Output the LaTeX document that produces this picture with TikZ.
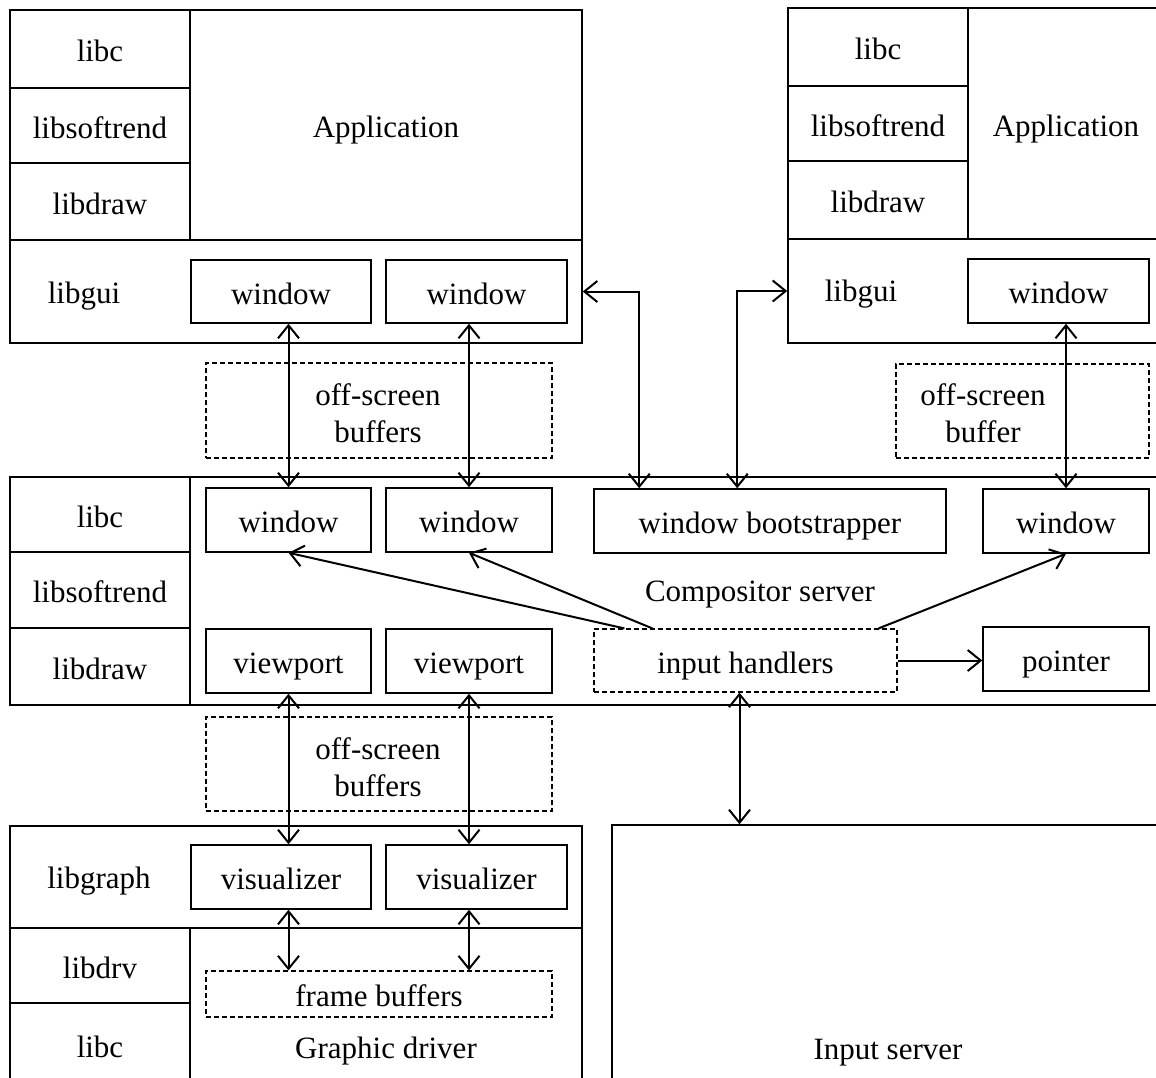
\documentclass[tikz,border=0pt]{standalone}
\usepackage{fontspec}
\setmainfont{Liberation Serif}
\usetikzlibrary{arrows.meta,calc}
\begin{document}
\begin{tikzpicture}[x=1pt,y=-1pt,
  every node/.style={font=\fontsize{31}{37}\selectfont},
  corners/.style n args={4}{at={({(#1+#3)/2},{(#2+#4)/2})}, minimum width={(#3-#1)*1pt}, minimum height={(#4-#2)*1pt}},
  one/.style={text height=25pt, text depth=0pt},
  cell/.style={draw, line width=1.5pt, inner sep=0pt, one},
  dbox/.style={draw, line width=1.2pt, dash pattern=on 5pt off 3pt, inner sep=0pt},
  lbl/.style={inner sep=0pt, one},
  lbltwo/.style={inner sep=0pt, align=center},
  conn/.style={line width=2pt, {Straight Barb[length=13pt,width=21pt]}-{Straight Barb[length=13pt,width=21pt]}},
  oneway/.style={line width=2pt, -{Straight Barb[length=13pt,width=21pt]}}
]
\useasboundingbox (0,0) rectangle (1156,1077);
\fill[white] (0,0) rectangle (1156,1077);
\clip (0,0) rectangle (1156,1077);

% ---------- top-left application ----------
\node[cell, corners={10}{10}{190}{88}] (Alibc) {libc};
\node[cell, corners={10}{88}{190}{163}] (Asoft) {libsoftrend};
\node[cell, corners={10}{163}{190}{240}] (Adraw) {libdraw};
\node[cell, corners={190}{10}{582}{240}] (Aapp) {Application};
\node[cell, corners={10}{240}{582}{343}] (Agui) {};
\node[lbl] (Aguil) at (84,291) {libgui};
\node[cell, corners={191}{260}{371}{323}] (Aw1) {window};
\node[cell, corners={386}{260}{567}{323}] (Aw2) {window};

% ---------- top-right application ----------
\node[cell, corners={788}{8}{968}{86}] (Blibc) {libc};
\node[cell, corners={788}{86}{968}{161}] (Bsoft) {libsoftrend};
\node[cell, corners={788}{161}{968}{239}] (Bdraw) {libdraw};
\node[cell, corners={968}{8}{1164}{239}] (Bapp) {Application};
\node[cell, corners={788}{239}{1164}{343}] (Bgui) {};
\node[lbl] (Bguil) at (861,289) {libgui};
\node[cell, corners={968}{259}{1149}{323}] (Bw) {window};

% ---------- off-screen buffers (top) ----------
\node[dbox, corners={206}{363}{552}{458}] (D1) {};
\node[lbltwo] (D1l) at (378,413) {off-screen\\buffers};
\node[dbox, corners={896}{364}{1149}{458}] (D2) {};
\node[lbltwo] (D2l) at (983,413) {off-screen\\buffer};

% ---------- compositor server ----------
\node[cell, corners={10}{477}{190}{552}] (Clibc) {libc};
\node[cell, corners={10}{552}{190}{628}] (Csoft) {libsoftrend};
\node[cell, corners={10}{628}{190}{705}] (Cdraw) {libdraw};
\node[cell, corners={190}{477}{1164}{705}] (Cmain) {};
\node[lbl] (Cmainl) at (760,589) {Compositor server};
\node[cell, corners={206}{488}{371}{552}] (C1) {window};
\node[cell, corners={386}{488}{552}{552}] (C2) {window};
\node[cell, corners={594}{489}{946}{553}] (C3) {window bootstrapper};
\node[cell, corners={983}{489}{1149}{553}] (C4) {window};
\node[cell, corners={206}{629}{371}{693}] (V1) {viewport};
\node[cell, corners={386}{629}{552}{693}] (V2) {viewport};
\node[dbox, one, corners={594}{629}{897}{692}] (IH) {input handlers};
\node[cell, corners={983}{627}{1149}{691}] (P) {pointer};

% ---------- off-screen buffers (bottom) ----------
\node[dbox, corners={206}{717}{552}{811}] (D3) {};
\node[lbltwo] (D3l) at (378,767) {off-screen\\buffers};

% ---------- graphic driver ----------
\node[cell, corners={10}{826}{582}{928}] (Ggraph) {};
\node[lbl] (Ggraphl) at (99,876) {libgraph};
\node[cell, corners={10}{928}{190}{1003}] (Gdrv) {libdrv};
\node[cell, corners={10}{1003}{190}{1100}] (Glibc) {};
\node[lbl] (Glibcl) at (100,1045) {libc};
\node[cell, corners={190}{928}{582}{1100}] (Gmain) {};
\node[lbl] (Gmainl) at (386,1046) {Graphic driver};
\node[cell, corners={191}{845}{371}{909}] (Vis1) {visualizer};
\node[cell, corners={386}{845}{567}{909}] (Vis2) {visualizer};
\node[dbox, one, corners={206}{971}{552}{1017}] (FB) {frame buffers};

% ---------- input server ----------
\node[cell, corners={612}{825}{1164}{1100}] (I) {};
\node[lbl] (Il) at (888,1047) {Input server};

% ---------- connectors ----------
\draw[conn] (C1.north |- Aw1.south) -- (C1.north);
\draw[conn] (C2.north |- Aw2.south) -- (C2.north);
\draw[conn] (C4.north |- Bw.south) -- (C4.north);
\coordinate (c3a) at ([xshift=46pt]C3.north west);
\coordinate (c3b) at ([xshift=144pt]C3.north west);
\draw[conn] (Agui.east) -| (c3a);
\draw[conn] (c3b) |- (Bgui.west);

\coordinate (ih1) at ([xshift=31pt]IH.north west);
\coordinate (ih2) at ([xshift=59pt]IH.north west);
\coordinate (ih3) at ([xshift=-19pt]IH.north east);
\draw[oneway] (ih1) -- (C1.south);
\draw[oneway] (ih2) -- (C2.south);
\draw[oneway] (ih3) -- (C4.south);
\draw[oneway] (IH.east) -- (IH.east -| P.west);

\draw[conn] (V1.south) -- (V1.south |- Vis1.north);
\draw[conn] (V2.south) -- (V2.south |- Vis2.north);
\draw[conn] (V1.south |- Vis1.south) -- (V1.south |- FB.north);
\draw[conn] (V2.south |- Vis2.south) -- (V2.south |- FB.north);
\coordinate (ihb) at ([xshift=-6pt]IH.south);
\draw[conn] (ihb) -- (ihb |- I.north);
\end{tikzpicture}
\end{document}
